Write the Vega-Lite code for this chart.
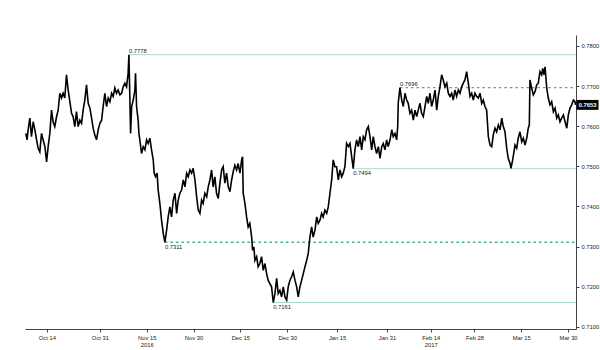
{
  "$schema": "https://vega.github.io/schema/vega-lite/v6.json",
  "width": 551,
  "height": 294,
  "autosize": {"type": "none"},
  "padding": {"left": 25, "top": 35, "right": 24, "bottom": 21},
  "background": "white",
  "config": {"view": {"stroke": null}, "font": "Liberation Sans"},
  "datasets": {
    "px": [
      {"t":"2016-10-07T06:00","v":0.7582},{"t":"2016-10-07T16:00","v":0.7566},{"t":"2016-10-08T00:00","v":0.7591},{"t":"2016-10-08T13:00","v":0.7620},{"t":"2016-10-09T02:00","v":0.7574},{"t":"2016-10-09T15:00","v":0.7611},{"t":"2016-10-10T04:00","v":0.7591},{"t":"2016-10-10T17:00","v":0.7566},{"t":"2016-10-11T05:00","v":0.7545},{"t":"2016-10-11T18:00","v":0.7536},
      {"t":"2016-10-12T07:00","v":0.7582},{"t":"2016-10-12T19:00","v":0.7566},{"t":"2016-10-13T09:00","v":0.7549},{"t":"2016-10-13T22:00","v":0.7511},{"t":"2016-10-14T10:00","v":0.7549},{"t":"2016-10-14T23:00","v":0.7582},{"t":"2016-10-15T12:00","v":0.7640},{"t":"2016-10-16T00:00","v":0.7611},{"t":"2016-10-16T13:00","v":0.7599},{"t":"2016-10-17T03:00","v":0.7624},
      {"t":"2016-10-17T15:00","v":0.7640},{"t":"2016-10-18T04:00","v":0.7682},{"t":"2016-10-18T17:00","v":0.7670},{"t":"2016-10-19T05:00","v":0.7682},{"t":"2016-10-19T18:00","v":0.7670},{"t":"2016-10-20T07:00","v":0.7728},{"t":"2016-10-20T20:00","v":0.7690},{"t":"2016-10-21T09:00","v":0.7661},{"t":"2016-10-21T22:00","v":0.7632},{"t":"2016-10-22T10:00","v":0.7624},
      {"t":"2016-10-22T23:00","v":0.7599},{"t":"2016-10-23T12:00","v":0.7636},{"t":"2016-10-24T01:00","v":0.7599},{"t":"2016-10-24T14:00","v":0.7615},{"t":"2016-10-25T03:00","v":0.7607},{"t":"2016-10-25T15:00","v":0.7640},{"t":"2016-10-26T04:00","v":0.7665},{"t":"2016-10-26T17:00","v":0.7703},{"t":"2016-10-27T06:00","v":0.7657},{"t":"2016-10-27T19:00","v":0.7645},
      {"t":"2016-10-28T08:00","v":0.7620},{"t":"2016-10-28T20:00","v":0.7595},{"t":"2016-10-29T09:00","v":0.7578},{"t":"2016-10-29T22:00","v":0.7566},{"t":"2016-10-30T11:00","v":0.7591},{"t":"2016-10-31T00:00","v":0.7607},{"t":"2016-10-31T13:00","v":0.7615},{"t":"2016-11-01T01:00","v":0.7649},{"t":"2016-11-01T14:00","v":0.7682},{"t":"2016-11-02T03:00","v":0.7649},
      {"t":"2016-11-02T16:00","v":0.7670},{"t":"2016-11-03T05:00","v":0.7661},{"t":"2016-11-03T18:00","v":0.7682},{"t":"2016-11-04T06:00","v":0.7674},{"t":"2016-11-04T19:00","v":0.7695},{"t":"2016-11-05T08:00","v":0.7682},{"t":"2016-11-05T20:00","v":0.7690},{"t":"2016-11-06T10:00","v":0.7678},{"t":"2016-11-06T23:00","v":0.7682},{"t":"2016-11-07T11:00","v":0.7698},
      {"t":"2016-11-08T00:00","v":0.7707},{"t":"2016-11-08T13:00","v":0.7698},{"t":"2016-11-09T01:00","v":0.7732},{"t":"2016-11-09T07:00","v":0.7778},{"t":"2016-11-09T14:00","v":0.7674},{"t":"2016-11-09T20:00","v":0.7582},{"t":"2016-11-10T04:00","v":0.7649},{"t":"2016-11-10T16:00","v":0.7665},{"t":"2016-11-11T05:00","v":0.7690},{"t":"2016-11-11T10:00","v":0.7732},
      {"t":"2016-11-11T18:00","v":0.7649},{"t":"2016-11-12T06:00","v":0.7615},{"t":"2016-11-12T12:00","v":0.7582},{"t":"2016-11-12T19:00","v":0.7566},{"t":"2016-11-13T08:00","v":0.7532},{"t":"2016-11-13T21:00","v":0.7549},{"t":"2016-11-14T10:00","v":0.7541},{"t":"2016-11-14T23:00","v":0.7566},{"t":"2016-11-15T11:00","v":0.7557},{"t":"2016-11-16T00:00","v":0.7570},
      {"t":"2016-11-16T13:00","v":0.7541},{"t":"2016-11-17T02:00","v":0.7516},{"t":"2016-11-17T09:00","v":0.7483},{"t":"2016-11-17T20:00","v":0.7474},{"t":"2016-11-18T08:00","v":0.7483},{"t":"2016-11-18T16:00","v":0.7441},{"t":"2016-11-19T05:00","v":0.7408},{"t":"2016-11-19T18:00","v":0.7366},{"t":"2016-11-20T07:00","v":0.7333},{"t":"2016-11-20T20:00","v":0.7311},
      {"t":"2016-11-21T09:00","v":0.7341},{"t":"2016-11-21T21:00","v":0.7374},{"t":"2016-11-22T10:00","v":0.7399},{"t":"2016-11-22T23:00","v":0.7374},{"t":"2016-11-23T12:00","v":0.7416},{"t":"2016-11-24T01:00","v":0.7433},{"t":"2016-11-24T14:00","v":0.7383},{"t":"2016-11-25T02:00","v":0.7416},{"t":"2016-11-25T15:00","v":0.7433},{"t":"2016-11-26T04:00","v":0.7441},
      {"t":"2016-11-26T17:00","v":0.7466},{"t":"2016-11-27T06:00","v":0.7449},{"t":"2016-11-27T19:00","v":0.7483},{"t":"2016-11-28T07:00","v":0.7474},{"t":"2016-11-28T20:00","v":0.7491},{"t":"2016-11-29T09:00","v":0.7483},{"t":"2016-11-29T21:00","v":0.7495},{"t":"2016-11-30T11:00","v":0.7466},{"t":"2016-12-01T00:00","v":0.7424},{"t":"2016-12-01T12:00","v":0.7391},
      {"t":"2016-12-02T01:00","v":0.7383},{"t":"2016-12-02T14:00","v":0.7416},{"t":"2016-12-03T02:00","v":0.7408},{"t":"2016-12-03T15:00","v":0.7433},{"t":"2016-12-04T05:00","v":0.7424},{"t":"2016-12-04T17:00","v":0.7449},{"t":"2016-12-05T06:00","v":0.7466},{"t":"2016-12-05T19:00","v":0.7491},{"t":"2016-12-06T07:00","v":0.7449},{"t":"2016-12-06T20:00","v":0.7474},
      {"t":"2016-12-07T09:00","v":0.7433},{"t":"2016-12-07T22:00","v":0.7420},{"t":"2016-12-08T11:00","v":0.7458},{"t":"2016-12-09T00:00","v":0.7491},{"t":"2016-12-09T12:00","v":0.7499},{"t":"2016-12-10T01:00","v":0.7458},{"t":"2016-12-10T14:00","v":0.7483},{"t":"2016-12-11T03:00","v":0.7449},{"t":"2016-12-11T16:00","v":0.7437},{"t":"2016-12-12T05:00","v":0.7466},
      {"t":"2016-12-12T17:00","v":0.7487},{"t":"2016-12-13T06:00","v":0.7503},{"t":"2016-12-13T19:00","v":0.7491},{"t":"2016-12-14T07:00","v":0.7507},{"t":"2016-12-14T21:00","v":0.7483},{"t":"2016-12-15T10:00","v":0.7516},{"t":"2016-12-15T17:00","v":0.7524},{"t":"2016-12-15T22:00","v":0.7433},{"t":"2016-12-16T11:00","v":0.7408},{"t":"2016-12-17T00:00","v":0.7374},
      {"t":"2016-12-17T12:00","v":0.7349},{"t":"2016-12-18T01:00","v":0.7358},{"t":"2016-12-18T15:00","v":0.7324},{"t":"2016-12-18T22:00","v":0.7291},{"t":"2016-12-19T08:00","v":0.7299},{"t":"2016-12-19T16:00","v":0.7266},{"t":"2016-12-20T05:00","v":0.7275},{"t":"2016-12-20T17:00","v":0.7250},{"t":"2016-12-21T06:00","v":0.7258},{"t":"2016-12-21T19:00","v":0.7275},
      {"t":"2016-12-22T08:00","v":0.7241},{"t":"2016-12-22T21:00","v":0.7258},{"t":"2016-12-23T10:00","v":0.7233},{"t":"2016-12-23T22:00","v":0.7216},{"t":"2016-12-24T11:00","v":0.7208},{"t":"2016-12-25T00:00","v":0.7200},{"t":"2016-12-25T13:00","v":0.7161},{"t":"2016-12-26T02:00","v":0.7183},{"t":"2016-12-26T15:00","v":0.7221},{"t":"2016-12-27T03:00","v":0.7183},
      {"t":"2016-12-27T16:00","v":0.7191},{"t":"2016-12-28T05:00","v":0.7175},{"t":"2016-12-28T18:00","v":0.7200},{"t":"2016-12-29T07:00","v":0.7175},{"t":"2016-12-29T20:00","v":0.7167},{"t":"2016-12-30T08:00","v":0.7200},{"t":"2016-12-30T21:00","v":0.7216},{"t":"2016-12-31T10:00","v":0.7225},{"t":"2016-12-31T23:00","v":0.7237},{"t":"2017-01-01T12:00","v":0.7216},
      {"t":"2017-01-02T01:00","v":0.7200},{"t":"2017-01-02T13:00","v":0.7175},{"t":"2017-01-03T02:00","v":0.7200},{"t":"2017-01-03T15:00","v":0.7216},{"t":"2017-01-04T04:00","v":0.7233},{"t":"2017-01-04T17:00","v":0.7250},{"t":"2017-01-05T06:00","v":0.7266},{"t":"2017-01-05T18:00","v":0.7283},{"t":"2017-01-06T07:00","v":0.7324},{"t":"2017-01-06T20:00","v":0.7349},
      {"t":"2017-01-07T08:00","v":0.7324},{"t":"2017-01-07T22:00","v":0.7341},{"t":"2017-01-08T11:00","v":0.7374},{"t":"2017-01-08T23:00","v":0.7358},{"t":"2017-01-09T12:00","v":0.7366},{"t":"2017-01-10T01:00","v":0.7383},{"t":"2017-01-10T13:00","v":0.7374},{"t":"2017-01-11T02:00","v":0.7391},{"t":"2017-01-11T16:00","v":0.7383},{"t":"2017-01-12T04:00","v":0.7399},
      {"t":"2017-01-12T17:00","v":0.7433},{"t":"2017-01-13T06:00","v":0.7466},{"t":"2017-01-13T18:00","v":0.7516},{"t":"2017-01-14T07:00","v":0.7499},{"t":"2017-01-14T20:00","v":0.7499},{"t":"2017-01-15T09:00","v":0.7466},{"t":"2017-01-15T22:00","v":0.7491},{"t":"2017-01-16T11:00","v":0.7474},{"t":"2017-01-16T23:00","v":0.7483},{"t":"2017-01-17T12:00","v":0.7499},
      {"t":"2017-01-18T01:00","v":0.7557},{"t":"2017-01-18T14:00","v":0.7549},{"t":"2017-01-19T03:00","v":0.7557},{"t":"2017-01-19T16:00","v":0.7524},{"t":"2017-01-20T04:00","v":0.7494},{"t":"2017-01-20T17:00","v":0.7541},{"t":"2017-01-21T06:00","v":0.7566},{"t":"2017-01-21T19:00","v":0.7549},{"t":"2017-01-22T08:00","v":0.7574},{"t":"2017-01-22T21:00","v":0.7541},
      {"t":"2017-01-23T09:00","v":0.7574},{"t":"2017-01-23T22:00","v":0.7566},{"t":"2017-01-24T11:00","v":0.7591},{"t":"2017-01-25T00:00","v":0.7599},{"t":"2017-01-25T13:00","v":0.7574},{"t":"2017-01-26T02:00","v":0.7541},{"t":"2017-01-26T14:00","v":0.7574},{"t":"2017-01-27T03:00","v":0.7549},{"t":"2017-01-27T16:00","v":0.7532},{"t":"2017-01-28T05:00","v":0.7549},
      {"t":"2017-01-28T18:00","v":0.7520},{"t":"2017-01-29T07:00","v":0.7549},{"t":"2017-01-29T19:00","v":0.7557},{"t":"2017-01-30T08:00","v":0.7541},{"t":"2017-01-30T21:00","v":0.7566},{"t":"2017-01-31T09:00","v":0.7549},{"t":"2017-01-31T23:00","v":0.7566},{"t":"2017-02-01T12:00","v":0.7591},{"t":"2017-02-02T00:00","v":0.7574},{"t":"2017-02-02T13:00","v":0.7582},
      {"t":"2017-02-03T02:00","v":0.7566},{"t":"2017-02-03T10:00","v":0.7599},{"t":"2017-02-03T14:00","v":0.7657},{"t":"2017-02-04T03:00","v":0.7696},{"t":"2017-02-04T17:00","v":0.7665},{"t":"2017-02-05T05:00","v":0.7649},{"t":"2017-02-05T18:00","v":0.7682},{"t":"2017-02-06T07:00","v":0.7665},{"t":"2017-02-06T19:00","v":0.7657},{"t":"2017-02-07T08:00","v":0.7632},
      {"t":"2017-02-07T21:00","v":0.7640},{"t":"2017-02-08T10:00","v":0.7615},{"t":"2017-02-08T23:00","v":0.7640},{"t":"2017-02-09T12:00","v":0.7624},{"t":"2017-02-10T00:00","v":0.7640},{"t":"2017-02-10T13:00","v":0.7657},{"t":"2017-02-11T02:00","v":0.7632},{"t":"2017-02-11T15:00","v":0.7624},{"t":"2017-02-12T04:00","v":0.7649},{"t":"2017-02-12T17:00","v":0.7674},
      {"t":"2017-02-13T05:00","v":0.7657},{"t":"2017-02-13T18:00","v":0.7682},{"t":"2017-02-14T07:00","v":0.7649},{"t":"2017-02-14T19:00","v":0.7665},{"t":"2017-02-15T09:00","v":0.7690},{"t":"2017-02-15T22:00","v":0.7640},{"t":"2017-02-16T10:00","v":0.7674},{"t":"2017-02-16T23:00","v":0.7698},{"t":"2017-02-17T12:00","v":0.7728},{"t":"2017-02-18T00:00","v":0.7715},
      {"t":"2017-02-18T13:00","v":0.7698},{"t":"2017-02-19T03:00","v":0.7707},{"t":"2017-02-19T15:00","v":0.7682},{"t":"2017-02-20T04:00","v":0.7674},{"t":"2017-02-20T17:00","v":0.7682},{"t":"2017-02-21T05:00","v":0.7665},{"t":"2017-02-21T18:00","v":0.7690},{"t":"2017-02-22T07:00","v":0.7674},{"t":"2017-02-22T20:00","v":0.7690},{"t":"2017-02-23T09:00","v":0.7682},
      {"t":"2017-02-23T22:00","v":0.7698},{"t":"2017-02-24T10:00","v":0.7707},{"t":"2017-02-24T23:00","v":0.7715},{"t":"2017-02-25T12:00","v":0.7736},{"t":"2017-02-26T01:00","v":0.7707},{"t":"2017-02-26T14:00","v":0.7674},{"t":"2017-02-27T03:00","v":0.7682},{"t":"2017-02-27T15:00","v":0.7665},{"t":"2017-02-28T04:00","v":0.7682},{"t":"2017-02-28T17:00","v":0.7674},
      {"t":"2017-03-01T06:00","v":0.7670},{"t":"2017-03-01T19:00","v":0.7682},{"t":"2017-03-02T08:00","v":0.7657},{"t":"2017-03-02T20:00","v":0.7665},{"t":"2017-03-03T09:00","v":0.7649},{"t":"2017-03-03T22:00","v":0.7640},{"t":"2017-03-04T11:00","v":0.7574},{"t":"2017-03-05T00:00","v":0.7553},{"t":"2017-03-05T13:00","v":0.7549},{"t":"2017-03-06T01:00","v":0.7578},
      {"t":"2017-03-06T14:00","v":0.7595},{"t":"2017-03-07T03:00","v":0.7586},{"t":"2017-03-07T16:00","v":0.7603},{"t":"2017-03-08T05:00","v":0.7591},{"t":"2017-03-08T18:00","v":0.7620},{"t":"2017-03-09T06:00","v":0.7599},{"t":"2017-03-09T19:00","v":0.7586},{"t":"2017-03-10T03:00","v":0.7561},{"t":"2017-03-10T08:00","v":0.7545},{"t":"2017-03-10T20:00","v":0.7520},
      {"t":"2017-03-11T10:00","v":0.7507},{"t":"2017-03-11T17:00","v":0.7495},{"t":"2017-03-12T06:00","v":0.7516},{"t":"2017-03-12T16:00","v":0.7536},{"t":"2017-03-13T00:00","v":0.7553},{"t":"2017-03-13T13:00","v":0.7545},{"t":"2017-03-14T01:00","v":0.7570},{"t":"2017-03-14T14:00","v":0.7586},{"t":"2017-03-15T04:00","v":0.7561},{"t":"2017-03-15T16:00","v":0.7570},
      {"t":"2017-03-16T05:00","v":0.7553},{"t":"2017-03-16T18:00","v":0.7570},{"t":"2017-03-17T06:00","v":0.7595},{"t":"2017-03-17T14:00","v":0.7603},{"t":"2017-03-17T19:00","v":0.7715},{"t":"2017-03-18T08:00","v":0.7695},{"t":"2017-03-18T21:00","v":0.7678},{"t":"2017-03-19T10:00","v":0.7686},{"t":"2017-03-19T23:00","v":0.7703},{"t":"2017-03-20T11:00","v":0.7707},
      {"t":"2017-03-21T00:00","v":0.7736},{"t":"2017-03-21T13:00","v":0.7728},{"t":"2017-03-21T21:00","v":0.7744},{"t":"2017-03-22T07:00","v":0.7728},{"t":"2017-03-22T15:00","v":0.7748},{"t":"2017-03-23T04:00","v":0.7695},{"t":"2017-03-23T16:00","v":0.7670},{"t":"2017-03-24T05:00","v":0.7653},{"t":"2017-03-24T18:00","v":0.7661},{"t":"2017-03-25T07:00","v":0.7636},
      {"t":"2017-03-25T20:00","v":0.7645},{"t":"2017-03-26T09:00","v":0.7620},{"t":"2017-03-26T21:00","v":0.7628},{"t":"2017-03-27T10:00","v":0.7611},{"t":"2017-03-27T23:00","v":0.7620},{"t":"2017-03-28T12:00","v":0.7628},{"t":"2017-03-29T01:00","v":0.7611},{"t":"2017-03-29T14:00","v":0.7595},{"t":"2017-03-30T02:00","v":0.7628},{"t":"2017-03-30T15:00","v":0.7645},
      {"t":"2017-03-31T04:00","v":0.7653},{"t":"2017-03-31T17:00","v":0.7665},{"t":"2017-04-01T05:00","v":0.7661},{"t":"2017-04-01T09:00","v":0.7653}
    ],
    "levels": [
      {"t":"2016-11-09T07:00","t2":"2017-04-01T13:00","v":0.7778,"label":"0.7778","kind":"high","side":"above"},
      {"t":"2017-02-04T03:00","t2":"2017-04-01T13:00","v":0.7696,"label":"0.7696","kind":"pivot","side":"above"},
      {"t":"2017-01-20T04:00","t2":"2017-04-01T13:00","v":0.7494,"label":"0.7494","kind":"high","side":"below"},
      {"t":"2016-11-20T20:00","t2":"2017-04-01T13:00","v":0.7311,"label":"0.7311","kind":"pivot","side":"below"},
      {"t":"2016-12-25T13:00","t2":"2017-04-01T13:00","v":0.7161,"label":"0.7161","kind":"high","side":"below"}
    ],
    "last": [{"t":"2017-04-01T13:00","v":0.7653,"label":"0.7653"}]
  },
  "encoding": {
    "x": {
      "field": "t", "type": "temporal",
      "scale": {"domain": ["2016-10-07T00:00", "2017-04-01T13:00"], "nice": false},
      "axis": {
        "title": null, "grid": false,
        "values": [
          {"year":2016,"month":10,"date":14},{"year":2016,"month":10,"date":31},{"year":2016,"month":11,"date":15},{"year":2016,"month":11,"date":30},
          {"year":2016,"month":12,"date":15},{"year":2016,"month":12,"date":30},{"year":2017,"month":1,"date":15},{"year":2017,"month":1,"date":31},
          {"year":2017,"month":2,"date":14},{"year":2017,"month":2,"date":28},{"year":2017,"month":3,"date":15},{"year":2017,"month":3,"date":30}
        ],
        "labelExpr": "timeFormat(datum.value, '%m-%d') == '11-15' ? ['Nov 15', '2016'] : timeFormat(datum.value, '%m-%d') == '02-14' ? ['Feb 14', '2017'] : timeFormat(datum.value, '%b %d')",
        "labelFontSize": 5.8, "labelColor": "#222", "labelPadding": 2, "labelLineHeight": 7,
        "labelOverlap": false, "labelFlush": false,
        "tickSize": 3, "tickColor": "#444", "domainColor": "#444", "domainWidth": 1
      }
    },
    "y": {
      "field": "v", "type": "quantitative",
      "scale": {"domain": [0.7095, 0.7827], "nice": false, "zero": false},
      "axis": {
        "orient": "right", "title": null, "grid": false,
        "values": [0.71, 0.72, 0.73, 0.74, 0.75, 0.76, 0.77, 0.78],
        "format": ".4f",
        "labelFontSize": 5.8, "labelColor": "#222", "labelPadding": 2,
        "tickSize": 3, "tickColor": "#444", "domainColor": "#444", "domainWidth": 1
      }
    }
  },
  "layer": [
    {
      "data": {"name": "levels"},
      "transform": [{"filter": "datum.kind == 'high'"}],
      "mark": {"type": "rule", "color": "#a4dcc7", "strokeWidth": 1},
      "encoding": {"x2": {"field": "t2"}}
    },
    {
      "data": {"name": "levels"},
      "transform": [{"filter": "datum.kind == 'pivot'"}],
      "mark": {"type": "rule", "color": "#3bb67e", "strokeWidth": 1.3, "strokeDash": [2.5, 3]},
      "encoding": {"x2": {"field": "t2"}}
    },
    {
      "data": {"name": "levels"},
      "transform": [{"filter": "datum.side == 'above'"}],
      "mark": {"type": "text", "align": "left", "baseline": "bottom", "dy": -0.5, "fontSize": 5.8, "color": "#222"},
      "encoding": {"text": {"field": "label"}}
    },
    {
      "data": {"name": "levels"},
      "transform": [{"filter": "datum.side == 'below'"}],
      "mark": {"type": "text", "align": "left", "baseline": "top", "dy": 1.5, "fontSize": 5.8, "color": "#222"},
      "encoding": {"text": {"field": "label"}}
    },
    {
      "data": {"name": "px"},
      "mark": {"type": "line", "color": "#000", "strokeWidth": 1.6, "strokeJoin": "miter"},
      "encoding": {}
    },
    {
      "data": {"name": "last"},
      "mark": {"type": "point", "shape": "M-1,-0.45H1V0.45H-1Z", "size": 484, "filled": true, "color": "#000", "opacity": 1, "xOffset": 11.5, "clip": false},
      "encoding": {}
    },
    {
      "data": {"name": "last"},
      "mark": {"type": "text", "align": "center", "baseline": "middle", "dx": 11.5, "fontSize": 5.8, "fontWeight": "bold", "color": "#fff", "clip": false},
      "encoding": {"text": {"field": "label"}}
    }
  ]
}
